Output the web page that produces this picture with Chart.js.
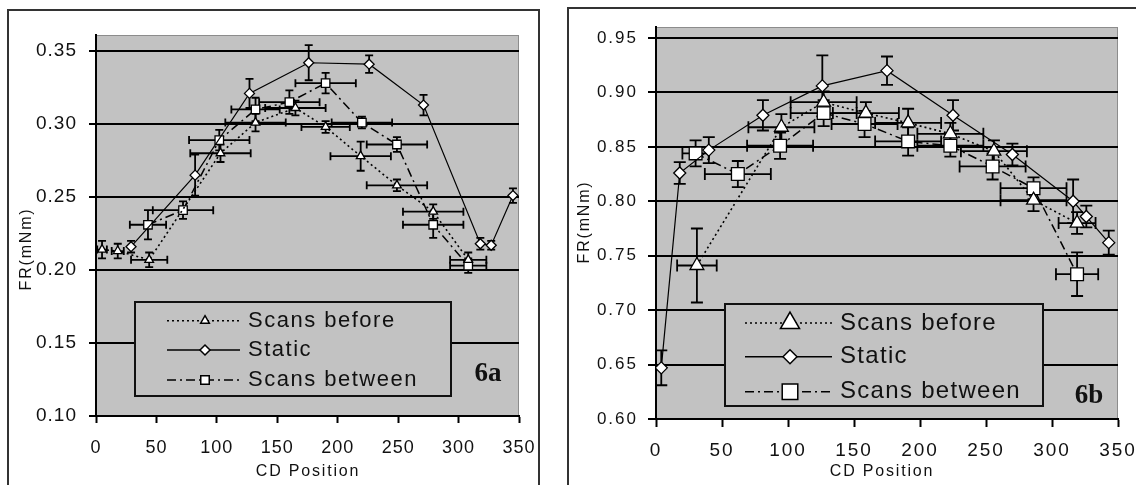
<!DOCTYPE html>
<html>
<head>
<meta charset="utf-8">
<script src="https://cdn.jsdelivr.net/npm/chart.js@4.4.1/dist/chart.umd.min.js"></script>
<style>
  body { margin: 0; background: #fff; width: 1136px; height: 485px; overflow: hidden; position: relative; }
  .frame { position: absolute; box-sizing: border-box; border: 2px solid #333; }
  canvas { position: absolute; top: 0; }
</style>
</head>
<body>
<div class="frame" style="left:7px;top:9px;width:533px;height:500px"></div>
<div class="frame" style="left:567px;top:7px;width:600px;height:500px"></div>
<canvas id="chart6a" width="560" height="485" style="left:0"></canvas>
<canvas id="chart6b" width="576" height="485" style="left:560px"></canvas>
<script>
// axis ticks
const xTicks = [0, 50, 100, 150, 200, 250, 300, 350];
const yTicksA = [0.10, 0.15, 0.20, 0.25, 0.30, 0.35];
const yTicksB = [0.60, 0.65, 0.70, 0.75, 0.80, 0.85, 0.90, 0.95];
const seriesNames = ['Scans before', 'Static', 'Scans between'];

// 6a - scans before
const beforeA_x = [5, 18, 44, 103, 132, 165, 190, 219, 249, 279, 308];
const beforeA_y = [0.214, 0.213, 0.207, 0.280, 0.301, 0.311, 0.298, 0.278, 0.258, 0.240, 0.207];
const beforeA_ex = [4, 5, 15, 25, 25, 25, 20, 25, 25, 25, 15];
const beforeA_ey = [0.006, 0.005, 0.005, 0.006, 0.006, 0.005, 0.004, 0.010, 0.004, 0.005, 0.005];
// 6a - static
const staticA_x = [29, 82, 127, 176, 226, 271, 318, 327, 345];
const staticA_y = [0.216, 0.265, 0.321, 0.342, 0.341, 0.313, 0.218, 0.217, 0.251];
const staticA_ey = [0.004, 0.014, 0.010, 0.012, 0.006, 0.007, 0.004, 0.003, 0.005];
// 6a - scans between
const betweenA_x = [43, 72, 102, 132, 160, 190, 220, 249, 279, 308];
const betweenA_y = [0.231, 0.241, 0.289, 0.310, 0.315, 0.328, 0.301, 0.286, 0.231, 0.203];
const betweenA_ex = [15, 25, 25, 20, 25, 25, 25, 25, 25, 15];
const betweenA_ey = [0.010, 0.006, 0.007, 0.008, 0.008, 0.007, 0.004, 0.005, 0.009, 0.005];

// 6b - scans before
const beforeB_x = [31, 95, 127, 159, 191, 223, 256, 286, 319];
const beforeB_y = [0.741, 0.868, 0.891, 0.881, 0.872, 0.862, 0.846, 0.801, 0.780];
const beforeB_ex = [15, 25, 25, 25, 25, 25, 25, 25, 14];
const beforeB_ey = [0.034, 0.012, 0.010, 0.010, 0.013, 0.010, 0.010, 0.010, 0.010];
// 6b - static
const staticB_x = [4, 18, 40, 81, 126, 175, 225, 270, 316, 326, 343];
const staticB_y = [0.647, 0.826, 0.847, 0.879, 0.906, 0.920, 0.879, 0.843, 0.800, 0.786, 0.762];
const staticB_ey = [0.016, 0.010, 0.012, 0.014, 0.028, 0.013, 0.014, 0.010, 0.020, 0.010, 0.011];
// 6b - scans between
const betweenB_x = [30, 62, 94, 127, 158, 191, 223, 255, 286, 319];
const betweenB_y = [0.844, 0.825, 0.851, 0.881, 0.871, 0.855, 0.851, 0.832, 0.812, 0.733];
const betweenB_ex = [10, 25, 25, 25, 25, 25, 25, 25, 25, 16];
const betweenB_ey = [0.012, 0.012, 0.012, 0.012, 0.012, 0.013, 0.010, 0.012, 0.010, 0.020];

const FONT = '"Liberation Sans", Arial, sans-serif';
const PLOT_GREY = '#c2c2c2';
const INK = '#111';

function pts(xs, ys) {
  return xs.map((x, i) => ({ x: x, y: ys[i] }));
}

function text(ctx, str, x, y, font, spacing, align, rot) {
  ctx.save();
  ctx.letterSpacing = spacing + 'px';
  ctx.font = font;
  ctx.fillStyle = INK;
  ctx.textAlign = align || 'left';
  ctx.textBaseline = 'middle';
  ctx.translate(x, y);
  if (rot) ctx.rotate(rot);
  ctx.fillText(str, 0, 0);
  ctx.restore();
}

// grey plot area, error bars, legend box, axis titles
const paper = {
  id: 'paper',
  beforeLayout(chart, args, o) {
    chart.ctx.letterSpacing = o.spacing + 'px';
  },
  beforeDraw(chart, args, o) {
    const ctx = chart.ctx, a = chart.chartArea;
    ctx.letterSpacing = o.spacing + 'px';
    ctx.save();
    ctx.fillStyle = PLOT_GREY;
    ctx.fillRect(a.left, a.top, a.right - a.left, a.bottom - a.top);
    ctx.strokeStyle = '#8c8c8c';
    ctx.lineWidth = 1;
    ctx.strokeRect(a.left + 0.5, a.top + 0.5, a.right - a.left - 1, a.bottom - a.top);
    ctx.restore();
  },
  beforeDatasetsDraw(chart, args, o) {
    const ctx = chart.ctx, xs = chart.scales.x, ys = chart.scales.y;
    ctx.save();
    ctx.strokeStyle = '#000';
    ctx.lineWidth = 1.8;
    chart.data.datasets.forEach(ds => {
      ds.data.forEach((p, j) => {
        const ex = ds.errX ? ds.errX[j] : 0;
        const ey = ds.errY ? ds.errY[j] : 0;
        const px = xs.getPixelForValue(p.x), py = ys.getPixelForValue(p.y);
        ctx.beginPath();
        if (ey) {
          const t = ys.getPixelForValue(p.y + ey), b = ys.getPixelForValue(p.y - ey);
          ctx.moveTo(px, t); ctx.lineTo(px, b);
          ctx.moveTo(px - o.cap, t); ctx.lineTo(px + o.cap, t);
          ctx.moveTo(px - o.cap, b); ctx.lineTo(px + o.cap, b);
        }
        if (ex) {
          const l = xs.getPixelForValue(p.x - ex), r = xs.getPixelForValue(p.x + ex);
          ctx.moveTo(l, py); ctx.lineTo(r, py);
          ctx.moveTo(l, py - o.cap); ctx.lineTo(l, py + o.cap);
          ctx.moveTo(r, py - o.cap); ctx.lineTo(r, py + o.cap);
        }
        ctx.stroke();
      });
    });
    ctx.restore();
  },
  afterDraw(chart, args, o) {
    const ctx = chart.ctx, L = o.legend;
    ctx.save();
    ctx.fillStyle = PLOT_GREY;
    ctx.fillRect(L.left, L.top, L.right - L.left, L.bottom - L.top);
    ctx.strokeStyle = '#111';
    ctx.lineWidth = 2;
    ctx.strokeRect(L.left, L.top, L.right - L.left, L.bottom - L.top);
    chart.data.datasets.forEach((ds, i) => {
      const y = L.rows[i];
      ctx.beginPath();
      ctx.setLineDash(ds.borderDash || []);
      ctx.lineWidth = 1.5;
      ctx.strokeStyle = '#000';
      ctx.moveTo(L.x1, y); ctx.lineTo(L.x2, y);
      ctx.stroke();
      ctx.setLineDash([]);
      ctx.fillStyle = '#fff';
      ctx.strokeStyle = '#000';
      ctx.lineWidth = 1.5;
      Chart.helpers.drawPoint(ctx, { pointStyle: ds.pointStyle, radius: L.marks[i], rotation: 0, borderWidth: 1.5 }, L.mx, y);
      text(ctx, ds.label, L.tx, y, L.font, L.spacing, 'left');
    });
    ctx.restore();
    text(ctx, 'FR(mNm)', o.yTitle[0], o.yTitle[1], o.titleFont, o.titleSpacing, 'center', -Math.PI / 2);
    text(ctx, 'CD Position', o.xTitle[0], o.xTitle[1], o.titleFont, o.titleSpacing, 'center');
    text(ctx, o.tag[0], o.tag[1], o.tag[2], 'bold 27px "Liberation Serif", "Times New Roman", serif', 0, 'center');
  }
};

function makeSets(bx, by, bex, bey, sx, sy, sey, wx, wy, wex, wey, r) {
  const common = { showLine: true, borderColor: '#000', pointBackgroundColor: '#fff', pointBorderColor: '#000', pointBorderWidth: 1.3 };
  return [
    Object.assign({ label: seriesNames[0], data: pts(bx, by), errX: bex, errY: bey,
      borderWidth: 1.6, borderDash: [2, 3], pointStyle: 'triangle', pointRadius: r[0] }, common),
    Object.assign({ label: seriesNames[1], data: pts(sx, sy), errY: sey,
      borderWidth: 1.2, borderDash: [], pointStyle: 'rectRot', pointRadius: r[1] }, common),
    Object.assign({ label: seriesNames[2], data: pts(wx, wy), errX: wex, errY: wey,
      borderWidth: 1.5, borderDash: [9, 4, 2, 4], pointStyle: 'rect', pointRadius: r[2] }, common)
  ];
}

function build(id, sets, c) {
  return new Chart(document.getElementById(id), {
    type: 'scatter',
    data: { datasets: sets },
    options: {
      responsive: false,
      animation: false,
      layout: { padding: c.pad },
      plugins: { legend: { display: false }, tooltip: { enabled: false }, paper: c.paper },
      scales: {
        x: {
          type: 'linear', min: 0, max: 350,
          afterBuildTicks: s => { s.ticks = xTicks.map(v => ({ value: v })); },
          afterFit: s => { s.height = c.xHeight; s.paddingLeft = 0; s.paddingRight = 0; },
          grid: { drawOnChartArea: false, color: '#000', tickLength: c.tick, tickWidth: 2 },
          border: { color: '#000', width: 2 },
          ticks: { color: INK, font: { family: FONT, size: c.xFont }, padding: c.xPad, maxRotation: 0, autoSkip: false }
        },
        y: {
          type: 'linear', min: c.yMin, max: c.yMax,
          afterBuildTicks: s => { s.ticks = c.yTicks.map(v => ({ value: v })); },
          afterFit: s => { s.width = 96; s.paddingTop = 0; s.paddingBottom = 0; },
          grid: { color: '#000', lineWidth: 2, tickLength: c.tick, tickWidth: 2 },
          border: { color: '#000', width: 2 },
          ticks: { color: INK, font: { family: FONT, size: c.yFont }, padding: c.yPad, callback: v => v.toFixed(2) }
        }
      }
    },
    plugins: [paper]
  });
}

build('chart6a',
  makeSets(beforeA_x, beforeA_y, beforeA_ex, beforeA_ey, staticA_x, staticA_y, staticA_ey,
           betweenA_x, betweenA_y, betweenA_ex, betweenA_ey, [5, 5, 6]),
  {
    pad: { top: 35, right: 41, left: 0, bottom: 0 },
    xHeight: 69, yMin: 0.10, yMax: 0.361, yTicks: yTicksA,
    tick: 7, xFont: 18, yFont: 19, xPad: 14, yPad: 12,
    paper: {
      spacing: 1, cap: 4,
      legend: { left: 135, top: 302, right: 451, bottom: 396, rows: [320.7, 350, 380],
                x1: 167, x2: 240, mx: 205, tx: 248, marks: [5, 5, 6],
                font: '22px ' + FONT, spacing: 1.5 },
      yTitle: [27, 249], xTitle: [308, 472], titleFont: '16px ' + FONT, titleSpacing: 1.8,
      tag: ['6a', 488, 374]
    }
  });

build('chart6b',
  makeSets(beforeB_x, beforeB_y, beforeB_ex, beforeB_ey, staticB_x, staticB_y, staticB_ey,
           betweenB_x, betweenB_y, betweenB_ex, betweenB_ey, [8, 6, 9]),
  {
    pad: { top: 27, right: 18, left: 0, bottom: 0 },
    xHeight: 66, yMin: 0.60, yMax: 0.9601, yTicks: yTicksB,
    tick: 8, xFont: 19, yFont: 17, xPad: 12, yPad: 10,
    paper: {
      spacing: 2, cap: 6,
      legend: { left: 165, top: 304, right: 483, bottom: 406, rows: [323, 356.7, 391.7],
                x1: 185, x2: 272, mx: 230, tx: 280, marks: [11, 7, 11],
                font: '24px ' + FONT, spacing: 1.3 },
      yTitle: [25, 222], xTitle: [322, 472], titleFont: '16px ' + FONT, titleSpacing: 1.8,
      tag: ['6b', 529, 396]
    }
  });
</script>
</body>
</html>
